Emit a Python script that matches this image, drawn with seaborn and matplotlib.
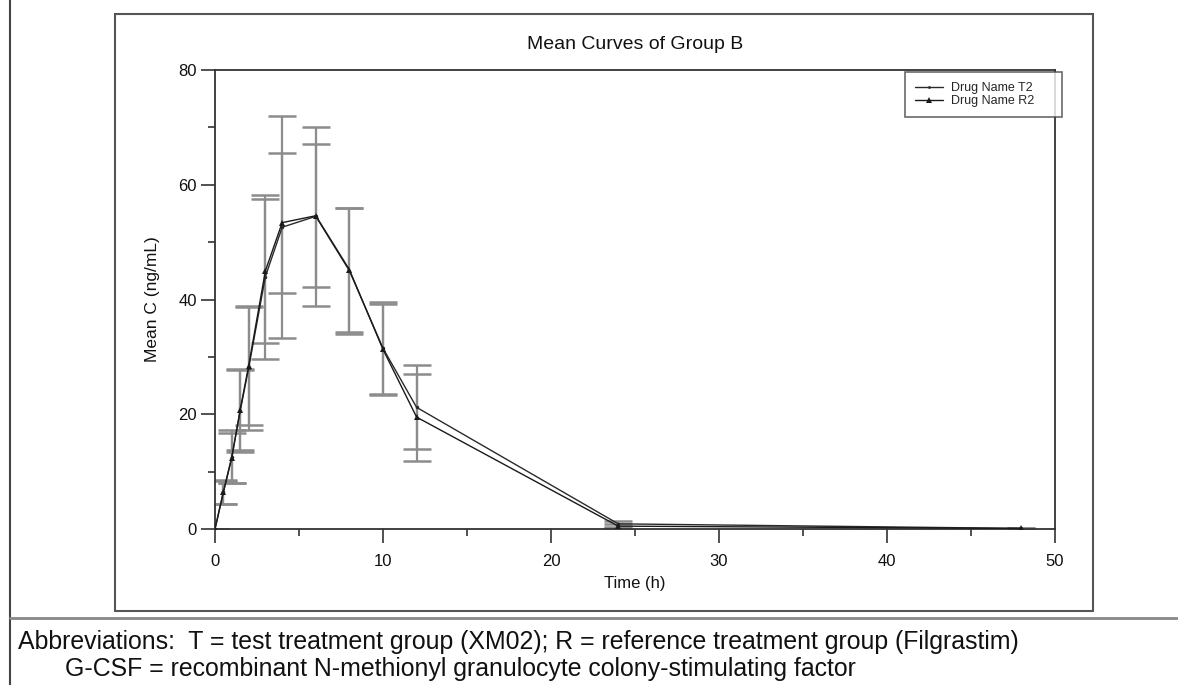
import numpy as np
import pandas as pd
import matplotlib
matplotlib.use("Agg")
import matplotlib.pyplot as plt
import seaborn as sns
from matplotlib.lines import Line2D
from matplotlib.patches import Rectangle
from matplotlib.ticker import MultipleLocator

# ---------------- data ----------------
time_h = [0, 0.5, 1, 1.5, 2, 3, 4, 6, 8, 10, 12, 24, 48]
t2_mean = [0, 6.5, 12.6, 20.6, 28.0, 44.0, 52.6, 54.5, 45.0, 31.5, 21.2, 0.9, 0.1]
t2_sd = [0, 2.1, 4.6, 7.1, 10.8, 14.3, 19.3, 15.6, 11.0, 8.0, 7.3, 0.5, 0.05]
r2_mean = [0, 6.4, 12.4, 20.8, 28.4, 45.0, 53.4, 54.6, 45.2, 31.3, 19.5, 0.5, 0.1]
r2_sd = [0, 2.0, 4.4, 7.0, 10.3, 12.5, 12.2, 12.5, 10.8, 8.0, 7.6, 0.4, 0.05]
series_names = ["Drug Name T2", "Drug Name R2"]

title = "Mean Curves of Group B"
x_label = "Time (h)"
y_label = "Mean C (ng/mL)"
note_1 = "Abbreviations:  T = test treatment group (XM02); R = reference treatment group (Filgrastim)"
note_2 = "G-CSF = recombinant N-methionyl granulocyte colony-stimulating factor"

# ---------------- style ----------------
sns.set_theme(style="white")
plt.rcParams["font.family"] = ["Liberation Sans", "DejaVu Sans"]

W, H = 1178, 685
fig = plt.figure(figsize=(W / 100, H / 100), dpi=100)
fig.patch.set_facecolor("white")


def fx(px):
    return px / W


def fy(py):
    return 1 - py / H


ax = fig.add_axes([fx(215), fy(529), fx(1055) - fx(215), fy(70) - fy(529)])

df = pd.concat([
    pd.DataFrame({"Time": time_h, "Mean": t2_mean, "Group": series_names[0]}),
    pd.DataFrame({"Time": time_h, "Mean": r2_mean, "Group": series_names[1]}),
])

# error bars (behind lines)
for m, s in [(t2_mean, t2_sd), (r2_mean, r2_sd)]:
    ax.errorbar(time_h, m, yerr=s, fmt="none", ecolor="#8c8c8c",
                elinewidth=1.6, capsize=10, capthick=1.8, zorder=1)

sns.lineplot(data=df, x="Time", y="Mean", hue="Group", style="Group",
             markers={series_names[0]: ".", series_names[1]: "^"},
             dashes=False,
             palette={series_names[0]: "#2a2a2a", series_names[1]: "#1a1a1a"},
             markersize=5, markeredgewidth=0, linewidth=1.0,
             ax=ax, legend=False, zorder=3)

ax.set_xlim(0, 50)
ax.set_ylim(0, 80)
ax.xaxis.set_major_locator(MultipleLocator(10))
ax.xaxis.set_minor_locator(MultipleLocator(5))
ax.yaxis.set_major_locator(MultipleLocator(20))
ax.yaxis.set_minor_locator(MultipleLocator(10))
ax.tick_params(axis="both", which="major", direction="out", length=10,
               width=1.2, color="#333333", labelsize=12, labelcolor="#111111")
ax.tick_params(axis="x", which="major", pad=8)
ax.tick_params(axis="y", which="major", pad=3)
ax.tick_params(axis="both", which="minor", direction="out", length=5,
               width=1.2, color="#333333")
ax.tick_params(bottom=True, left=True, top=False, right=False, which="both")
for sp in ax.spines.values():
    sp.set_visible(True)
    sp.set_color("#333333")
    sp.set_linewidth(1.3)

ax.set_xlabel(x_label, fontsize=12, labelpad=5, color="#111111")
ax.set_ylabel(y_label, fontsize=12.5, labelpad=13, color="#111111")
ax.set_title(title, fontsize=14, pad=15, color="#111111")

handles = [
    Line2D([], [], color="#2a2a2a", lw=1.0, marker=".", markersize=4, markeredgewidth=0),
    Line2D([], [], color="#1a1a1a", lw=1.0, marker="^", markersize=4, markeredgewidth=0),
]
leg = ax.legend(handles, series_names, loc="upper left", mode="expand",
                bbox_to_anchor=(fx(905), fy(122), fx(1062) - fx(905), fy(72) - fy(122)),
                bbox_transform=fig.transFigure,
                fontsize=9, frameon=True, fancybox=False, edgecolor="#444444",
                borderpad=0.8, labelspacing=0.1, handlelength=2.2,
                handletextpad=0.7, borderaxespad=0)
leg.get_frame().set_linewidth(1.2)

# ---------------- page frame & notes ----------------
fig.add_artist(Rectangle((fx(115), fy(611)), fx(1093) - fx(115), fy(14) - fy(611),
                         transform=fig.transFigure, fill=False,
                         edgecolor="#555555", linewidth=1.5))
fig.add_artist(Line2D([fx(10), fx(10)], [0, 1], transform=fig.transFigure,
                      color="#444444", linewidth=1.5))
fig.add_artist(Line2D([fx(10), 1], [fy(618), fy(618)], transform=fig.transFigure,
                      color="#888888", linewidth=2))
fig.text(fx(18), fy(642), note_1, fontsize=17.9, va="center", ha="left", color="#111111")
fig.text(fx(65), fy(669), note_2, fontsize=17.9, va="center", ha="left", color="#111111")

fig.savefig("out.png", dpi=100)
